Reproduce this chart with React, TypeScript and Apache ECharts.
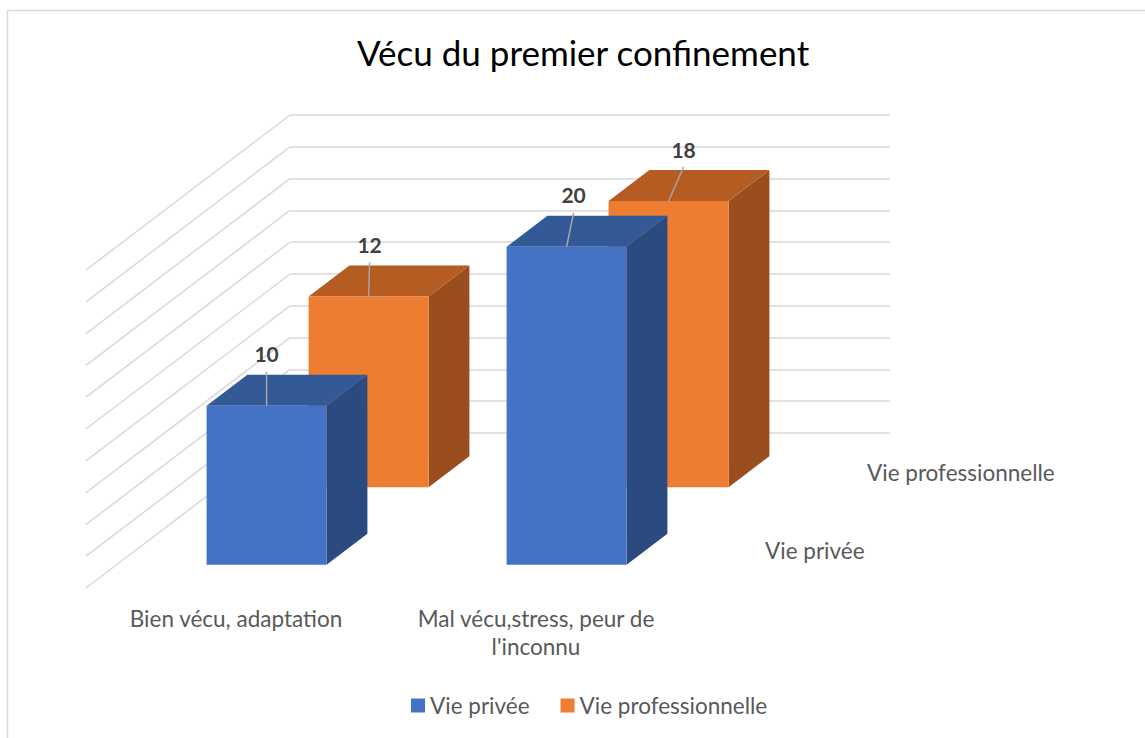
import React, { useEffect, useRef } from "react";
import * as echarts from "echarts";

// ---- data ----
const chartTitle = "Vécu du premier confinement";
const categories = ["Bien vécu, adaptation", "Mal vécu,stress, peur de l'inconnu"];
const categoryLabelLines = ["Bien vécu, adaptation", "Mal vécu,stress, peur de\nl'inconnu"];
const seriesNames = ["Vie privée", "Vie professionnelle"];
const viePrivee = [10, 20];
const vieProfessionnelle = [12, 18];
const gridValues = [0, 2, 4, 6, 8, 10, 12, 14, 16, 18, 20];
const valueMin = 0;
const valueMax = 20;
const valueInterval = 2;

// ---- layout / style ----
const FONT = "Lato, 'Open Sans', sans-serif";
const LABEL_SIZE = 22.5;
const FRONT = { left: 86, top: 270, width: 600, height: 318 };
const ROW_DX = 102;
const ROW_DY = -77.5;
const BAR_FRONT_DEPTH = 0.3;
const BAR_DEPTH = 0.4;
const BAR_WIDTH_RATIO = 0.4;
const GRID_COLOR = "#d9d9d9";
const colors = [
  { front: "#4472C4", top: "#335A97", side: "#2B4A7F" },
  { front: "#ED7D31", top: "#B45C22", side: "#9A4D1D" },
];
const labelNudgeX = [
  [0, 7],
  [1, 15],
];

function makeBarSeries(row: number, values: number[]) {
  return {
    type: "custom",
    name: seriesNames[row],
    xAxisIndex: 0,
    yAxisIndex: 0,
    z: 3 - row,
    itemStyle: { color: colors[row].front },
    data: values.map((v, i) => [i, v]),
    renderItem: (params: any, api: any) => {
      const cat = api.value(0);
      const v = api.value(1);
      const base = api.coord([cat, 0]);
      const topP = api.coord([cat, v]);
      const band = api.size([1, 0])[0];
      const w = band * BAR_WIDTH_RATIO;
      const ox = (row + BAR_FRONT_DEPTH) * ROW_DX;
      const oy = (row + BAR_FRONT_DEPTH) * ROW_DY;
      const dx = BAR_DEPTH * ROW_DX;
      const dy = BAR_DEPTH * ROW_DY;
      const xl = base[0] - w / 2 + ox;
      const xr = xl + w;
      const yb = base[1] + oy;
      const yt = topP[1] + oy;
      const cx = (xl + xr) / 2;
      const nx = labelNudgeX[row][params.dataIndex];
      const ly = yt - 52;
      return {
        type: "group",
        children: [
          {
            type: "polygon",
            shape: { points: [[xr, yt], [xr, yb], [xr + dx, yb + dy], [xr + dx, yt + dy]] },
            style: { fill: colors[row].side },
          },
          {
            type: "polygon",
            shape: { points: [[xl, yt], [xr, yt], [xr + dx, yt + dy], [xl + dx, yt + dy]] },
            style: { fill: colors[row].top },
          },
          {
            type: "rect",
            shape: { x: xl, y: yt, width: w, height: yb - yt },
            style: { fill: colors[row].front },
          },
          {
            type: "line",
            shape: { x1: cx + nx, y1: ly + 18, x2: cx, y2: yt },
            style: { stroke: "#a6a6a6", lineWidth: 1.5 },
          },
          {
            type: "text",
            x: cx + nx,
            y: ly,
            style: {
              text: String(v),
              fontFamily: FONT,
              fontSize: 21,
              fontWeight: "bold",
              fill: "#404040",
              align: "center",
              verticalAlign: "middle",
            },
          },
        ],
      };
    },
  };
}

export default function App() {
  const ref = useRef<HTMLDivElement>(null);
  useEffect(() => {
    if (!ref.current) return;
    const chart = echarts.init(ref.current, undefined, { renderer: "svg" });
    const option: any = {
      animation: false,
      backgroundColor: "#ffffff",
      title: {
        text: chartTitle,
        left: 352,
        top: 29,
        textStyle: { fontFamily: FONT, fontSize: 35, fontWeight: "normal", color: "#000000" },
      },
      legend: {
        data: seriesNames,
        top: 689,
        left: 406,
        icon: "rect",
        itemWidth: 14,
        itemHeight: 14,
        itemGap: 31,
        textStyle: { fontFamily: FONT, fontSize: LABEL_SIZE, color: "#595959" },
      },
      graphic: [
        {
          type: "rect",
          shape: { x: 7.5, y: 10.5, width: 1200, height: 800 },
          style: { fill: "none", stroke: GRID_COLOR, lineWidth: 1.5 },
          silent: true,
          z: -10,
        },
      ],
      grid: [
        { ...FRONT },
        {
          left: FRONT.left + 2 * ROW_DX,
          top: FRONT.top + 2 * ROW_DY,
          width: FRONT.width,
          height: FRONT.height,
        },
      ],
      xAxis: [
        {
          type: "category",
          gridIndex: 0,
          data: categories,
          boundaryGap: true,
          axisLine: { show: false },
          axisTick: { show: false },
          splitLine: { show: false },
          axisLabel: {
            margin: 16,
            interval: 0,
            fontFamily: FONT,
            fontSize: LABEL_SIZE,
            color: "#595959",
            lineHeight: 28,
            formatter: (val: string) => categoryLabelLines[categories.indexOf(val)],
          },
        },
        {
          type: "value",
          gridIndex: 1,
          min: 0,
          max: categories.length,
          show: false,
        },
      ],
      yAxis: [
        { type: "value", gridIndex: 0, min: valueMin, max: valueMax, interval: valueInterval, show: false },
        {
          type: "value",
          gridIndex: 1,
          min: valueMin,
          max: valueMax,
          interval: valueInterval,
          axisLine: { show: false },
          axisTick: { show: false },
          axisLabel: { show: false },
          splitLine: { show: true, lineStyle: { color: GRID_COLOR, width: 1.5 } },
        },
      ],
      series: [
        {
          type: "custom",
          name: "sideWall",
          xAxisIndex: 1,
          yAxisIndex: 1,
          silent: true,
          z: 1,
          data: gridValues.map((v) => [0, v]),
          renderItem: (params: any, api: any) => {
            const p = api.coord([api.value(0), api.value(1)]);
            return {
              type: "line",
              shape: { x1: p[0], y1: p[1], x2: p[0] - 2 * ROW_DX, y2: p[1] - 2 * ROW_DY },
              style: { stroke: GRID_COLOR, lineWidth: 1.5 },
            };
          },
        },
        makeBarSeries(1, vieProfessionnelle),
        makeBarSeries(0, viePrivee),
        {
          type: "custom",
          name: "depthAxis",
          xAxisIndex: 0,
          yAxisIndex: 0,
          silent: true,
          z: 1,
          data: seriesNames.map((_, r) => [categories.length - 1, 0, r]),
          encode: { x: 0, y: 1 },
          renderItem: (params: any, api: any) => {
            const r = api.value(2);
            const p = api.coord([api.value(0), 0]);
            const band = api.size([1, 0])[0];
            return {
              type: "text",
              x: p[0] + band / 2 + (r + 0.5) * ROW_DX + 28,
              y: p[1] + (r + 0.5) * ROW_DY + 1,
              style: {
                text: seriesNames[r],
                fontFamily: FONT,
                fontSize: LABEL_SIZE,
                fill: "#595959",
                align: "left",
                verticalAlign: "middle",
              },
            };
          },
        },
      ],
    };
    chart.setOption(option);
    return () => chart.dispose();
  }, []);
  return (
    <div
      ref={ref}
      style={{ position: "absolute", left: 0, top: 0, width: 1145, height: 738, background: "#fff" }}
    />
  );
}
